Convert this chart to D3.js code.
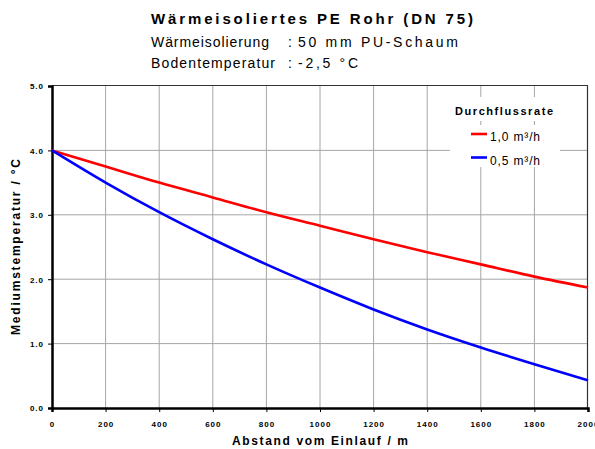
<!DOCTYPE html>
<html><head><meta charset="utf-8">
<script src="https://cdn.jsdelivr.net/npm/d3@7"></script>
<style>body{margin:0;background:#fff}svg{display:block;font-family:"Liberation Sans",Arial,sans-serif}</style>
</head><body>
<svg id="c" width="595" height="449"></svg>
<script>
const distances = [0,200,400,600,800,1000,1200,1400,1600,1800,2000];
const rate10 = [4.00,3.75,3.50,3.27,3.04,2.83,2.62,2.42,2.23,2.04,1.87];
const rate05 = [4.00,3.50,3.04,2.62,2.23,1.87,1.53,1.22,0.94,0.68,0.43];
const seriesNames = ["1,0 m³/h","0,5 m³/h"];
const seriesColors = ["#ff0000","#0000ff"];
const xTicks = [0,200,400,600,800,1000,1200,1400,1600,1800,2000];
const yTicks = [0,1,2,3,4,5];

const svg = d3.select("#c");
const x = d3.scaleLinear().domain([0,2000]).range([52,588]);
const y = d3.scaleLinear().domain([0,5]).range([408,86]);

// grid
svg.append("g").selectAll("line").data(xTicks.slice(1,-1)).join("line")
  .attr("x1",d=>x(d)).attr("x2",d=>x(d)).attr("y1",86).attr("y2",408)
  .attr("stroke","#a6a6a6").attr("stroke-width",1);
svg.append("g").selectAll("line").data(yTicks.slice(1,-1)).join("line")
  .attr("x1",52).attr("x2",588).attr("y1",d=>y(d)).attr("y2",d=>y(d))
  .attr("stroke","#a6a6a6").attr("stroke-width",1);
// frame top/right
svg.append("line").attr("x1",52).attr("x2",588).attr("y1",85.5).attr("y2",85.5).attr("stroke","#333").attr("stroke-width",1.2);
svg.append("line").attr("x1",587.5).attr("x2",587.5).attr("y1",86).attr("y2",408).attr("stroke","#333").attr("stroke-width",1.2);

// axes
const xAxis = svg.append("g").attr("transform","translate(0,408)")
  .call(d3.axisBottom(x).tickValues(xTicks).tickSize(4).tickFormat(d3.format("d")));
const yAxis = svg.append("g").attr("transform","translate(52,0)")
  .call(d3.axisLeft(y).tickValues(yTicks).tickSize(4).tickFormat(d3.format(".1f")));
[xAxis,yAxis].forEach(g=>{
  g.select(".domain").attr("stroke","#000").attr("stroke-width",2.5);
  g.selectAll(".tick line").attr("stroke","#000");
  g.selectAll("text").attr("font-family","Liberation Sans, Arial").attr("font-weight","bold")
   .attr("font-size",8).attr("letter-spacing","1px").attr("fill","#000");
});
xAxis.selectAll("text").attr("dy",null).attr("y",19);
yAxis.selectAll("text").attr("x",-8).attr("dy","0.35em");

// lines
const line = d3.line().x((d,i)=>x(distances[i])).y(d=>y(d)).curve(d3.curveMonotoneX);
[rate10,rate05].forEach((s,i)=>{
  svg.append("path").datum(s).attr("d",line).attr("fill","none")
    .attr("stroke",seriesColors[i]).attr("stroke-width",2.6);
});

// legend
svg.append("rect").attr("x",450).attr("y",97).attr("width",110).attr("height",24).attr("fill","#fff");
svg.append("rect").attr("x",450).attr("y",125).attr("width",110).attr("height",42).attr("fill","#fff");
svg.append("text").attr("x",455).attr("y",115).attr("font-size",11).attr("font-weight","bold")
  .attr("textLength",98).attr("lengthAdjust","spacing").text("Durchflussrate");
seriesNames.forEach((n,i)=>{
  const yy = 134 + i*23.5;
  svg.append("line").attr("x1",471).attr("x2",487).attr("y1",yy).attr("y2",yy)
    .attr("stroke",seriesColors[i]).attr("stroke-width",2.6);
  svg.append("text").attr("x",490).attr("y",yy+7).attr("font-size",12)
    .attr("textLength",50).attr("lengthAdjust","spacing").text(n);
});

// titles
svg.append("text").attr("x",151).attr("y",24).attr("font-size",15).attr("font-weight","bold")
  .attr("textLength",322).attr("lengthAdjust","spacing").text("Wärmeisoliertes PE Rohr (DN 75)");
const sub = [["Wärmeisolierung",118,"50 mm PU-Schaum",160,47],["Bodentemperatur",124,"-2,5 °C",60,68]];
sub.forEach(s=>{
  svg.append("text").attr("x",151).attr("y",s[4]).attr("font-size",14)
    .attr("textLength",s[1]).attr("lengthAdjust","spacing").text(s[0]);
  svg.append("text").attr("x",288).attr("y",s[4]).attr("font-size",14).text(":");
  svg.append("text").attr("x",298).attr("y",s[4]).attr("font-size",14)
    .attr("textLength",s[3]).attr("lengthAdjust","spacing").text(s[2]);
});
svg.append("text").attr("x",232).attr("y",445).attr("font-size",12).attr("font-weight","bold")
  .attr("textLength",176).attr("lengthAdjust","spacing").text("Abstand vom Einlauf / m");
svg.append("text").attr("transform","translate(20,335) rotate(-90)").attr("font-size",12).attr("font-weight","bold")
  .attr("textLength",176).attr("lengthAdjust","spacing").text("Mediumstemperatur / °C");
</script>
</body></html>
